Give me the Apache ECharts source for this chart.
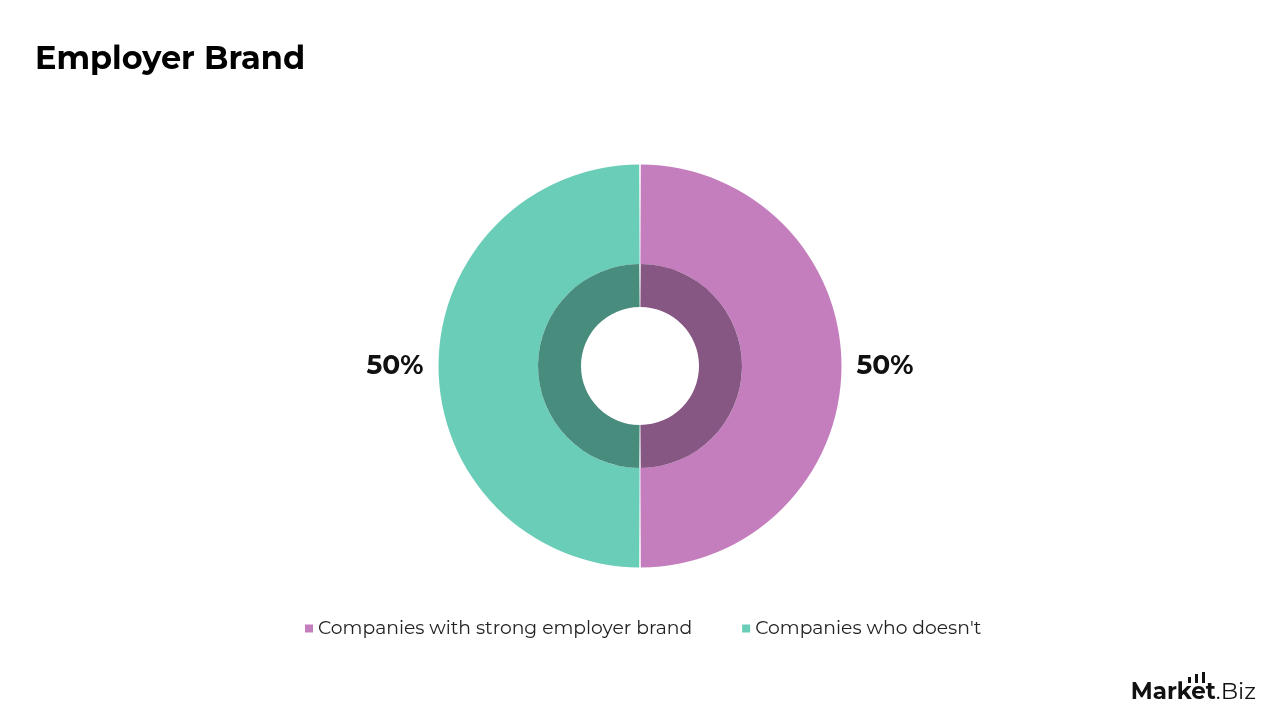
<!DOCTYPE html>
<html>
<head>
<meta charset="utf-8">
<script src="https://cdn.jsdelivr.net/npm/echarts@6/dist/echarts.min.js"></script>
<style>html,body{margin:0;padding:0;background:#fff}#c{width:1280px;height:720px}</style>
</head>
<body>
<div id="c"></div>
<script>
const categories = ["Companies with strong employer brand", "Companies who doesn't"];
const values = [50, 50];
const outerColors = ['#C47EBD', '#6ACDB8'];
const innerColors = ['#875783', '#488C7E'];

const chart = echarts.init(document.getElementById('c'));
const FONT = 'Montserrat, "Open Sans", Lato, sans-serif';
chart.setOption({
  animation: false,
  backgroundColor: '#ffffff',
  title: {
    text: 'Employer Brand', left: 30, top: 39,
    textStyle: { fontFamily: FONT, fontWeight: 'bold', fontSize: 32, color: '#000' }
  },
  legend: {
    bottom: 77, left: 300, itemWidth: 8, itemHeight: 8, icon: 'rect', itemGap: 50,
    textStyle: { fontFamily: FONT, fontSize: 18.75, color: '#222' },
    data: categories
  },
  series: [
    {
      type: 'pie', center: [640, 366], radius: [102, 201.5], startAngle: 90, clockwise: true, padAngle: 0.45,
      data: categories.map((c, i) => ({ name: c, value: values[i], itemStyle: { color: outerColors[i] } })),
      label: { show: true, position: 'outside', formatter: '{d}%', fontFamily: FONT, fontWeight: 'bold', fontSize: 26.5, color: '#111', padding: [4, 0, 0, 0] },
      labelLine: { show: false, length: 10, length2: 0 },
      emphasis: { disabled: true }
    },
    {
      type: 'pie', center: [640, 366], radius: [59, 102], startAngle: 90, clockwise: true, padAngle: 0.8,
      data: categories.map((c, i) => ({ name: c, value: values[i], itemStyle: { color: innerColors[i] } })),
      label: { show: false }, labelLine: { show: false },
      legendHoverLink: false, emphasis: { disabled: true }
    }
  ],
  graphic: [
    {
      type: 'text', right: 24, top: 681,
      style: {
        text: '{a|Market}{b|.Biz}',
        rich: {
          a: { fontFamily: FONT, fontWeight: 'bold', fontSize: 23, fill: '#111' },
          b: { fontFamily: FONT, fontSize: 23, fill: '#111' }
        }
      }
    },
    { type: 'rect', shape: { x: 1188, y: 677, width: 3, height: 6 }, style: { fill: '#111' } },
    { type: 'rect', shape: { x: 1195, y: 674, width: 3, height: 9 }, style: { fill: '#111' } },
    { type: 'rect', shape: { x: 1202, y: 672, width: 3, height: 11 }, style: { fill: '#111' } }
  ]
});
</script>
</body>
</html>
